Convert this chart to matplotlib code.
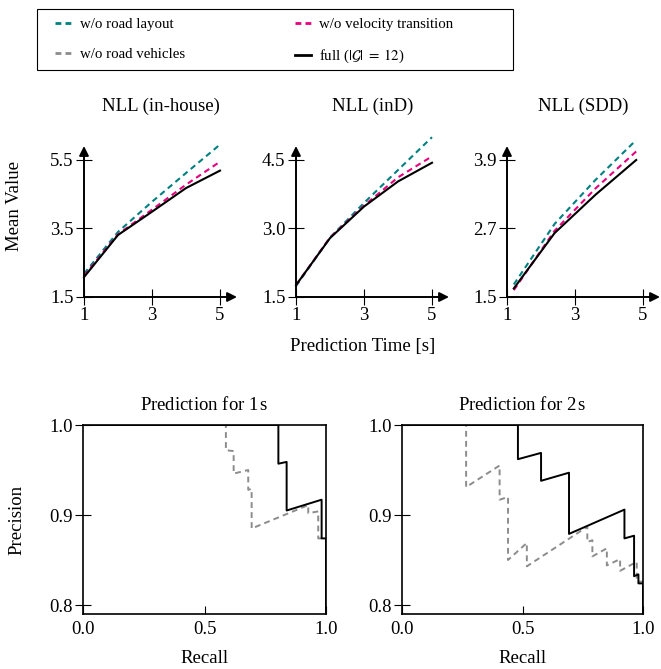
import numpy as np
import matplotlib
matplotlib.use("Agg")
import matplotlib.pyplot as plt
from matplotlib.lines import Line2D
from matplotlib.patches import Rectangle

plt.rcParams['font.family'] = ['Liberation Serif', 'DejaVu Serif']
plt.rcParams['mathtext.fontset'] = 'stix'
plt.rcParams['lines.scale_dashes'] = False

# %% Data
# mean NLL over prediction horizon
t_inhouse = [1, 2, 3, 4, 5]
nll_inhouse_full = [2.08, 3.31, 3.99, 4.68, 5.19]
nll_inhouse_novel = [2.12, 3.33, 4.05, 4.78, 5.45]
nll_inhouse_noroad = [2.18, 3.40, 4.28, 5.12, 5.95]

t_ind = [1, 2, 3, 4, 5]
nll_ind_full = [1.76, 2.79, 3.48, 4.03, 4.44]
nll_ind_novel = [1.76, 2.80, 3.50, 4.12, 4.58]
nll_ind_noroad = [1.74, 2.80, 3.56, 4.28, 5.00]

t_sdd = [1.2, 2.4, 3.6, 4.8]
nll_sdd_full = [1.65, 2.62, 3.29, 3.90]
nll_sdd_novel = [1.62, 2.66, 3.40, 4.05]
nll_sdd_noroad = [1.72, 2.78, 3.55, 4.25]

nll_titles = ['NLL (in-house)', 'NLL (inD)', 'NLL (SDD)']
nll_yticks = [[1.5, 3.5, 5.5], [1.5, 3.0, 4.5], [1.5, 2.7, 3.9]]
nll_xticks = [1, 3, 5]

# precision / recall curves
rec_full_1s = [0.0, 0.804, 0.804, 0.838, 0.838, 0.982, 0.982, 1.0, 1.0]
prec_full_1s = [1.0, 1.0, 0.957, 0.959, 0.905, 0.917, 0.874, 0.874, 0.0]
rec_noveh_1s = [0.0, 0.588, 0.588, 0.62, 0.62, 0.68, 0.68, 0.694, 0.694,
                0.927, 0.927, 0.968, 0.968, 1.0, 1.0]
prec_noveh_1s = [1.0, 1.0, 0.972, 0.971, 0.946, 0.950, 0.928, 0.929, 0.885,
                 0.911, 0.902, 0.904, 0.874, 0.874, 0.0]

rec_full_2s = [0.0, 0.481, 0.481, 0.577, 0.577, 0.693, 0.693, 0.923, 0.923,
               0.963, 0.963, 0.981, 0.981, 1.0, 1.0]
prec_full_2s = [1.0, 1.0, 0.962, 0.969, 0.938, 0.947, 0.879, 0.906, 0.874,
                0.877, 0.832, 0.834, 0.824, 0.824, 0.0]
rec_noveh_2s = [0.0, 0.266, 0.266, 0.405, 0.405, 0.44, 0.44, 0.518, 0.518,
                0.769, 0.769, 0.79, 0.79, 0.85, 0.85, 0.905, 0.905, 0.974,
                0.974, 1.0, 1.0]
prec_noveh_2s = [1.0, 1.0, 0.931, 0.955, 0.917, 0.920, 0.850, 0.869, 0.843,
                 0.887, 0.870, 0.872, 0.854, 0.863, 0.844, 0.851, 0.838, 0.848,
                 0.826, 0.826, 0.0]

pr_titles = ['Prediction for 1$\\,$s', 'Prediction for 2$\\,$s']
pr_xticks = [0.0, 0.5, 1.0]
pr_yticks = [0.8, 0.9, 1.0]

# %% Styles
TEAL = '#008080'
MAGENTA = '#e6007e'
GRAY = '#8c8c8c'
DASH = (0, (4.2, 3.0))
FS = 13.5
W, H = 661, 669


def px_axes(left, right, top, bottom):
    return [left / W, 1 - bottom / H, (right - left) / W, (bottom - top) / H]


fig = plt.figure(figsize=(W / 100, H / 100), dpi=100)

# %% NLL panels
nll_data = [
    (t_inhouse, nll_inhouse_noroad, nll_inhouse_novel, nll_inhouse_full),
    (t_ind, nll_ind_noroad, nll_ind_novel, nll_ind_full),
    (t_sdd, nll_sdd_noroad, nll_sdd_novel, nll_sdd_full),
]
lefts = [84, 296, 507]
px_per_x = 34.0
for i, (t, noroad, novel, full) in enumerate(nll_data):
    left = lefts[i]
    right = left + 153
    ax = fig.add_axes(px_axes(left, right, 146, 297))
    yt = nll_yticks[i]
    ax.set_xlim(1, 1 + (right - left) / px_per_x)
    ax.set_ylim(yt[0], yt[0] + (yt[-1] - yt[0]) * 151 / 137)
    ax.plot(t, noroad, color=TEAL, lw=1.5, ls=DASH, clip_on=False)
    ax.plot(t, novel, color=MAGENTA, lw=1.5, ls=DASH, clip_on=False)
    ax.plot(t, full, color='black', lw=1.5, clip_on=False)
    for s in ax.spines.values():
        s.set_visible(False)
    arrow = dict(arrowstyle='-|>', lw=1.4, color='black', mutation_scale=14,
                 shrinkA=0, shrinkB=0)
    ax.annotate('', xy=(1, 0), xytext=(0, 0), xycoords='axes fraction',
                arrowprops=arrow)
    ax.annotate('', xy=(0, 1), xytext=(0, 0), xycoords='axes fraction',
                arrowprops=arrow)
    ax.set_xticks(nll_xticks)
    ax.set_yticks(yt)
    ax.set_yticklabels([f'{v:.1f}' for v in yt])
    ax.tick_params(direction='inout', length=11, width=0.8, labelsize=FS, pad=2)
    ax.set_title(nll_titles[i], fontsize=FS, pad=25)

fig.text(15 / W, 1 - 206 / H, 'Mean Value', rotation=90, fontsize=FS,
         ha='center', va='center')
fig.text(363 / W, 1 - 347 / H, 'Prediction Time [s]', fontsize=FS,
         ha='center', va='center')

# %% Precision-recall panels
pr_data = [
    (rec_noveh_1s, prec_noveh_1s, rec_full_1s, prec_full_1s),
    (rec_noveh_2s, prec_noveh_2s, rec_full_2s, prec_full_2s),
]
pr_lefts = [(83, 326), (402, 643)]
for i, (rg, pg, rf, pf) in enumerate(pr_data):
    l, r = pr_lefts[i]
    ax = fig.add_axes(px_axes(l, r, 425, 614))
    ax.plot(rg, pg, color=GRAY, lw=1.4, ls=DASH)
    ax.plot(rf, pf, color='black', lw=1.4)
    ax.set_xlim(0, 1)
    ax.set_ylim(0.79, 1.0)
    ax.set_xticks(pr_xticks)
    ax.set_yticks(pr_yticks)
    ax.set_xticklabels([f'{v:.1f}' for v in pr_xticks])
    ax.set_yticklabels([f'{v:.1f}' for v in pr_yticks])
    for s in ax.spines.values():
        s.set_linewidth(1.2)
    ax.tick_params(axis='y', direction='inout', length=11, width=0.8,
                   labelsize=FS, pad=2)
    ax.tick_params(axis='x', direction='in', length=5.5, width=0.8,
                   labelsize=FS, pad=5)
    ax.set_title(pr_titles[i], fontsize=FS, pad=11)
    ax.set_xlabel('Recall', fontsize=FS, labelpad=9)
    if i == 0:
        ax.set_ylabel('Precision', fontsize=FS, labelpad=17)

# %% Legend
handles = [
    Line2D([], [], color=TEAL, lw=2.0, ls=DASH),
    Line2D([], [], color=GRAY, lw=2.0, ls=DASH),
    Line2D([], [], color=MAGENTA, lw=2.0, ls=DASH),
    Line2D([], [], color='black', lw=2.0),
]
labels = ['w/o road layout', 'w/o road vehicles', 'w/o velocity transition',
          r'full ($|\mathcal{G}|\;=\;12$)']
fig.legend(handles, labels, ncol=2, loc='upper left', frameon=False,
           bbox_to_anchor=(55 / W, 1 - 18 / H), borderpad=0, borderaxespad=0,
           handlelength=1.1, handletextpad=0.55, columnspacing=7.4,
           labelspacing=1.1, fontsize=10.7)
fig.patches.append(Rectangle((37 / W, 1 - 70 / H), 476 / W, 61 / H,
                             transform=fig.transFigure, fill=False,
                             edgecolor='black', lw=0.8))

fig.savefig('out.png', dpi=100)
